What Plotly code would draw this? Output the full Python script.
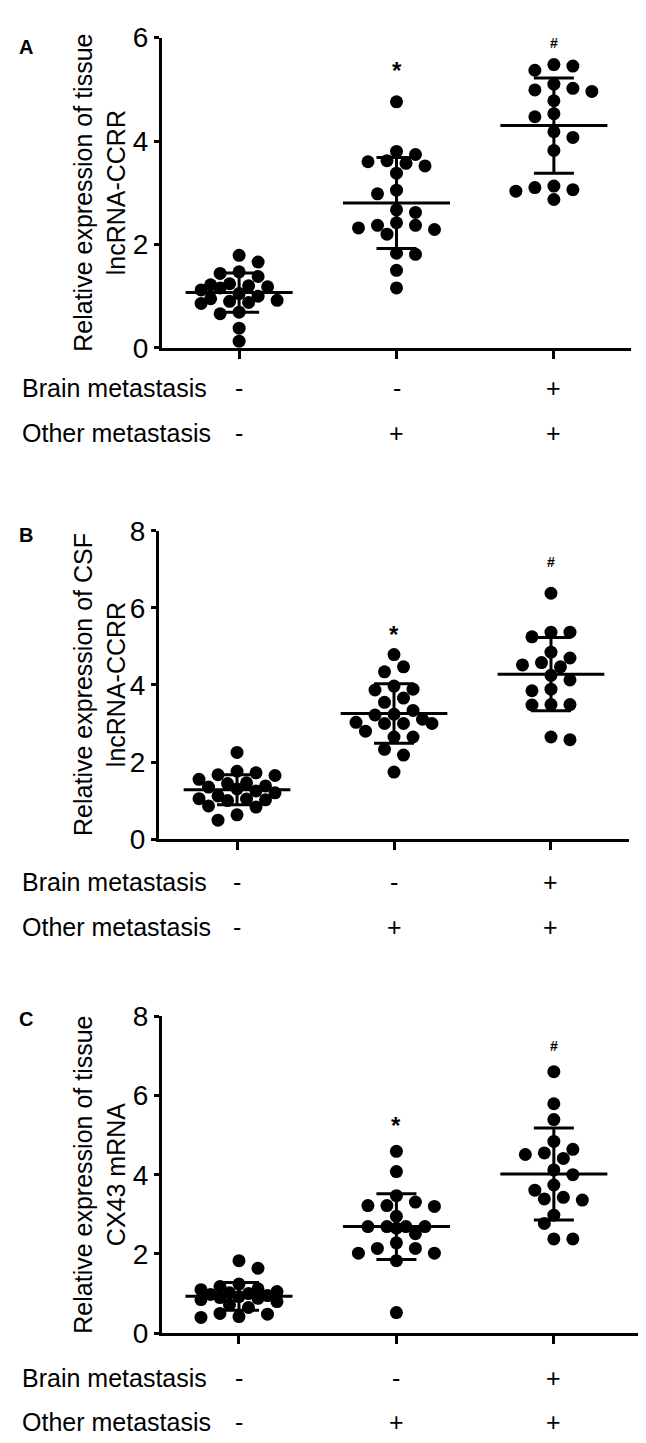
import plotly.graph_objects as go

# ---------------- data ----------------
group_pos = [0, 1, 2]
brain_labels = ["-", "-", "+"]
other_labels = ["-", "+", "+"]

# Panel A: relative expression of tissue lncRNA-CCRR
a_g1 = [1.79, 1.66, 1.47, 1.44, 1.38, 1.24, 1.22, 1.20, 1.18, 1.16, 1.12,
        1.05, 1.00, 0.95, 0.92, 0.90, 0.88, 0.86, 0.69, 0.66, 0.38, 0.13]
a_g2 = [4.76, 3.80, 3.74, 3.62, 3.60, 3.57, 3.52, 3.38, 3.05, 2.98, 2.67,
        2.62, 2.42, 2.37, 2.37, 2.32, 2.29, 2.20, 1.83, 1.81, 1.50, 1.16]
a_g3 = [5.48, 5.45, 5.37, 5.10, 5.02, 4.99, 4.96, 4.78, 4.53, 4.47, 4.18,
        4.07, 3.82, 3.13, 3.10, 3.06, 3.03, 2.87]
a_mean = [1.07, 2.80, 4.30]
a_sd = [0.38, 0.88, 0.92]

# Panel B: relative expression of CSF lncRNA-CCRR
b_g1 = [2.25, 1.76, 1.72, 1.67, 1.65, 1.55, 1.46, 1.44, 1.38, 1.35, 1.30,
        1.25, 1.20, 1.12, 1.05, 1.04, 1.02, 1.00, 0.86, 0.83, 0.63, 0.49]
b_g2 = [4.79, 4.47, 4.34, 3.97, 3.89, 3.87, 3.66, 3.55, 3.34, 3.24, 3.22,
        3.11, 3.03, 3.00, 3.00, 3.00, 2.80, 2.65, 2.65, 2.33, 2.18, 1.74]
b_g3 = [6.38, 5.37, 5.37, 5.25, 4.85, 4.70, 4.58, 4.52, 4.47, 4.25, 4.13,
        3.89, 3.85, 3.49, 3.49, 3.48, 2.65, 2.58]
b_mean = [1.28, 3.26, 4.28]
b_sd = [0.39, 0.77, 0.95]

# Panel C: relative expression of tissue CX43 mRNA
c_g1 = [1.83, 1.64, 1.24, 1.18, 1.12, 1.10, 1.05, 1.02, 1.00, 0.98, 0.95,
        0.92, 0.90, 0.88, 0.85, 0.80, 0.72, 0.65, 0.50, 0.48, 0.42, 0.40]
c_g2 = [4.59, 4.08, 3.47, 3.31, 3.22, 3.22, 3.20, 2.95, 2.69, 2.69, 2.69,
        2.69, 2.65, 2.51, 2.28, 2.14, 2.14, 2.02, 2.02, 1.83, 0.52]
c_g3 = [6.60, 5.79, 5.39, 4.84, 4.64, 4.55, 4.51, 4.41, 4.12, 4.00, 3.74,
        3.61, 3.43, 3.39, 3.36, 2.98, 2.77, 2.38, 2.38]
c_mean = [0.93, 2.69, 4.02]
c_sd = [0.35, 0.83, 1.16]

titles = ["Relative expression of tissue<br>lncRNA-CCRR",
          "Relative expression of CSF<br>lncRNA-CCRR",
          "Relative expression of tissue<br>CX43 mRNA"]
letters = ["A", "B", "C"]
y_max = [6, 8, 8]
y_ticks = [[0, 2, 4, 6], [0, 2, 4, 6, 8], [0, 2, 4, 6, 8]]
sig_star = [5.36, 5.30, 5.23]
sig_hash = [5.89, 7.20, 7.26]

# ---------------- layout geometry (pixels) ----------------
W, H = 646, 1443
FONT = "Arial, Liberation Sans, Helvetica, sans-serif"
panels = [
    dict(left=154, right=623, top=15, bottom=332, xr=[-0.49, 2.49],
         row1=373, row2=419, letter_y=25, title_x=92),
    dict(left=151, right=621, top=519, bottom=834, xr=[-0.497, 2.497],
         row1=878, row2=924, letter_y=523, title_x=92),
    dict(left=154, right=634, top=1015, bottom=1339, xr=[-0.489, 2.56],
         row1=1385, row2=1430, letter_y=1018, title_x=92),
]
MARKER = 13
STEP_PX = 9.5
MAX_SLOT = 4


def swarm(values, ppx, ppy):
    """Simple beeswarm: horizontal offsets (data units) so dots do not overlap."""
    placed = []
    offs = []
    sign = 1
    for v in values:
        best = None
        best_score = -1
        for k in range(0, MAX_SLOT + 1):
            cands = [0] if k == 0 else [sign * k, -sign * k]
            found = None
            for c in cands:
                dmin = min([((c * STEP_PX - px) ** 2 + ((v - py) * ppy) ** 2) ** 0.5
                            for px, py in placed] or [1e9])
                if dmin >= MARKER * 0.98:
                    found = c
                    break
                if dmin > best_score:
                    best_score = dmin
                    best = c
            if found is not None:
                best = found
                break
        placed.append((best * STEP_PX, v))
        offs.append(best * STEP_PX / ppx)
        if best != 0:
            sign = -sign
    return offs


fig = go.Figure()
all_groups = [[a_g1, a_g2, a_g3], [b_g1, b_g2, b_g3], [c_g1, c_g2, c_g3]]
all_means = [a_mean, b_mean, c_mean]
all_sds = [a_sd, b_sd, c_sd]
annotations = []

for p, geo in enumerate(panels):
    xa = "x" if p == 0 else f"x{p + 1}"
    ya = "y" if p == 0 else f"y{p + 1}"
    ppx = (geo["right"] - geo["left"]) / (geo["xr"][1] - geo["xr"][0])
    ppy = (geo["bottom"] - geo["top"]) / y_max[p]

    for g, vals in enumerate(all_groups[p]):
        offs = swarm(vals, ppx, ppy)
        fig.add_trace(go.Scatter(
            x=[group_pos[g] + o for o in offs], y=vals, mode="markers",
            marker=dict(size=MARKER, color="black"), cliponaxis=False,
            showlegend=False, xaxis=xa, yaxis=ya))

    means = all_means[p]
    sds = all_sds[p]
    mx, my = [], []
    for g in range(3):
        mx += [group_pos[g] - 0.34, group_pos[g] + 0.34, None]
        my += [means[g], means[g], None]
    fig.add_trace(go.Scatter(x=mx, y=my, mode="lines",
                             line=dict(color="black", width=3),
                             showlegend=False, xaxis=xa, yaxis=ya))
    fig.add_trace(go.Scatter(
        x=group_pos, y=means, mode="markers", marker=dict(size=1, color="black", opacity=0),
        error_y=dict(type="data", array=sds, color="black", thickness=3, width=20),
        showlegend=False, xaxis=xa, yaxis=ya))

    dom_x = [geo["left"] / W, geo["right"] / W]
    dom_y = [1 - geo["bottom"] / H, 1 - geo["top"] / H]
    xkey = "xaxis" if p == 0 else f"xaxis{p + 1}"
    ykey = "yaxis" if p == 0 else f"yaxis{p + 1}"
    fig.update_layout({
        xkey: dict(domain=dom_x, range=geo["xr"], anchor=ya, showgrid=False,
                   zeroline=False, showline=True, linecolor="black", linewidth=3,
                   ticks="outside", ticklen=8, tickwidth=3, tickcolor="black",
                   tickvals=group_pos, showticklabels=False),
        ykey: dict(domain=dom_y, range=[0, y_max[p]], anchor=xa, showgrid=False,
                   zeroline=False, showline=True, linecolor="black", linewidth=3,
                   ticks="outside", ticklen=5, tickwidth=3, tickcolor="black",
                   tickvals=y_ticks[p],
                   tickfont=dict(family=FONT, size=28, color="black")),
    })

    yc = 1 - (geo["top"] + geo["bottom"]) / 2 / H
    annotations.append(dict(text=titles[p], xref="paper", yref="paper",
                            x=geo["title_x"] / W, y=yc, textangle=-90,
                            xanchor="center", yanchor="middle", showarrow=False,
                            font=dict(family=FONT, size=25, color="black")))
    annotations.append(dict(text="<b>" + letters[p] + "</b>", xref="paper", yref="paper",
                            x=18 / W, y=1 - geo["letter_y"] / H,
                            xanchor="center", yanchor="middle", showarrow=False,
                            font=dict(family=FONT, size=20, color="black")))
    for txt, ry in (("Brain metastasis", geo["row1"]), ("Other metastasis", geo["row2"])):
        annotations.append(dict(text=txt, xref="paper", yref="paper", x=12 / W,
                                y=1 - ry / H, xanchor="left", yanchor="middle",
                                showarrow=False,
                                font=dict(family=FONT, size=25, color="black")))
    for g in range(3):
        for lab, ry in ((brain_labels[g], geo["row1"]), (other_labels[g], geo["row2"])):
            annotations.append(dict(text=lab, xref=xa, yref="paper", x=group_pos[g],
                                    y=1 - ry / H, xanchor="center", yanchor="middle",
                                    showarrow=False,
                                    font=dict(family=FONT, size=25, color="black")))
    annotations.append(dict(text="<b>*</b>", xref=xa, yref=ya, x=1, y=sig_star[p],
                            showarrow=False, xanchor="center", yanchor="middle",
                            font=dict(family=FONT, size=24, color="black")))
    annotations.append(dict(text="<b>#</b>", xref=xa, yref=ya, x=2, y=sig_hash[p],
                            showarrow=False, xanchor="center", yanchor="middle",
                            font=dict(family=FONT, size=14, color="black")))

fig.update_layout(width=W, height=H, margin=dict(l=0, r=0, t=0, b=0),
                  paper_bgcolor="white", plot_bgcolor="white",
                  annotations=annotations, showlegend=False)

fig.write_html("out.html")
